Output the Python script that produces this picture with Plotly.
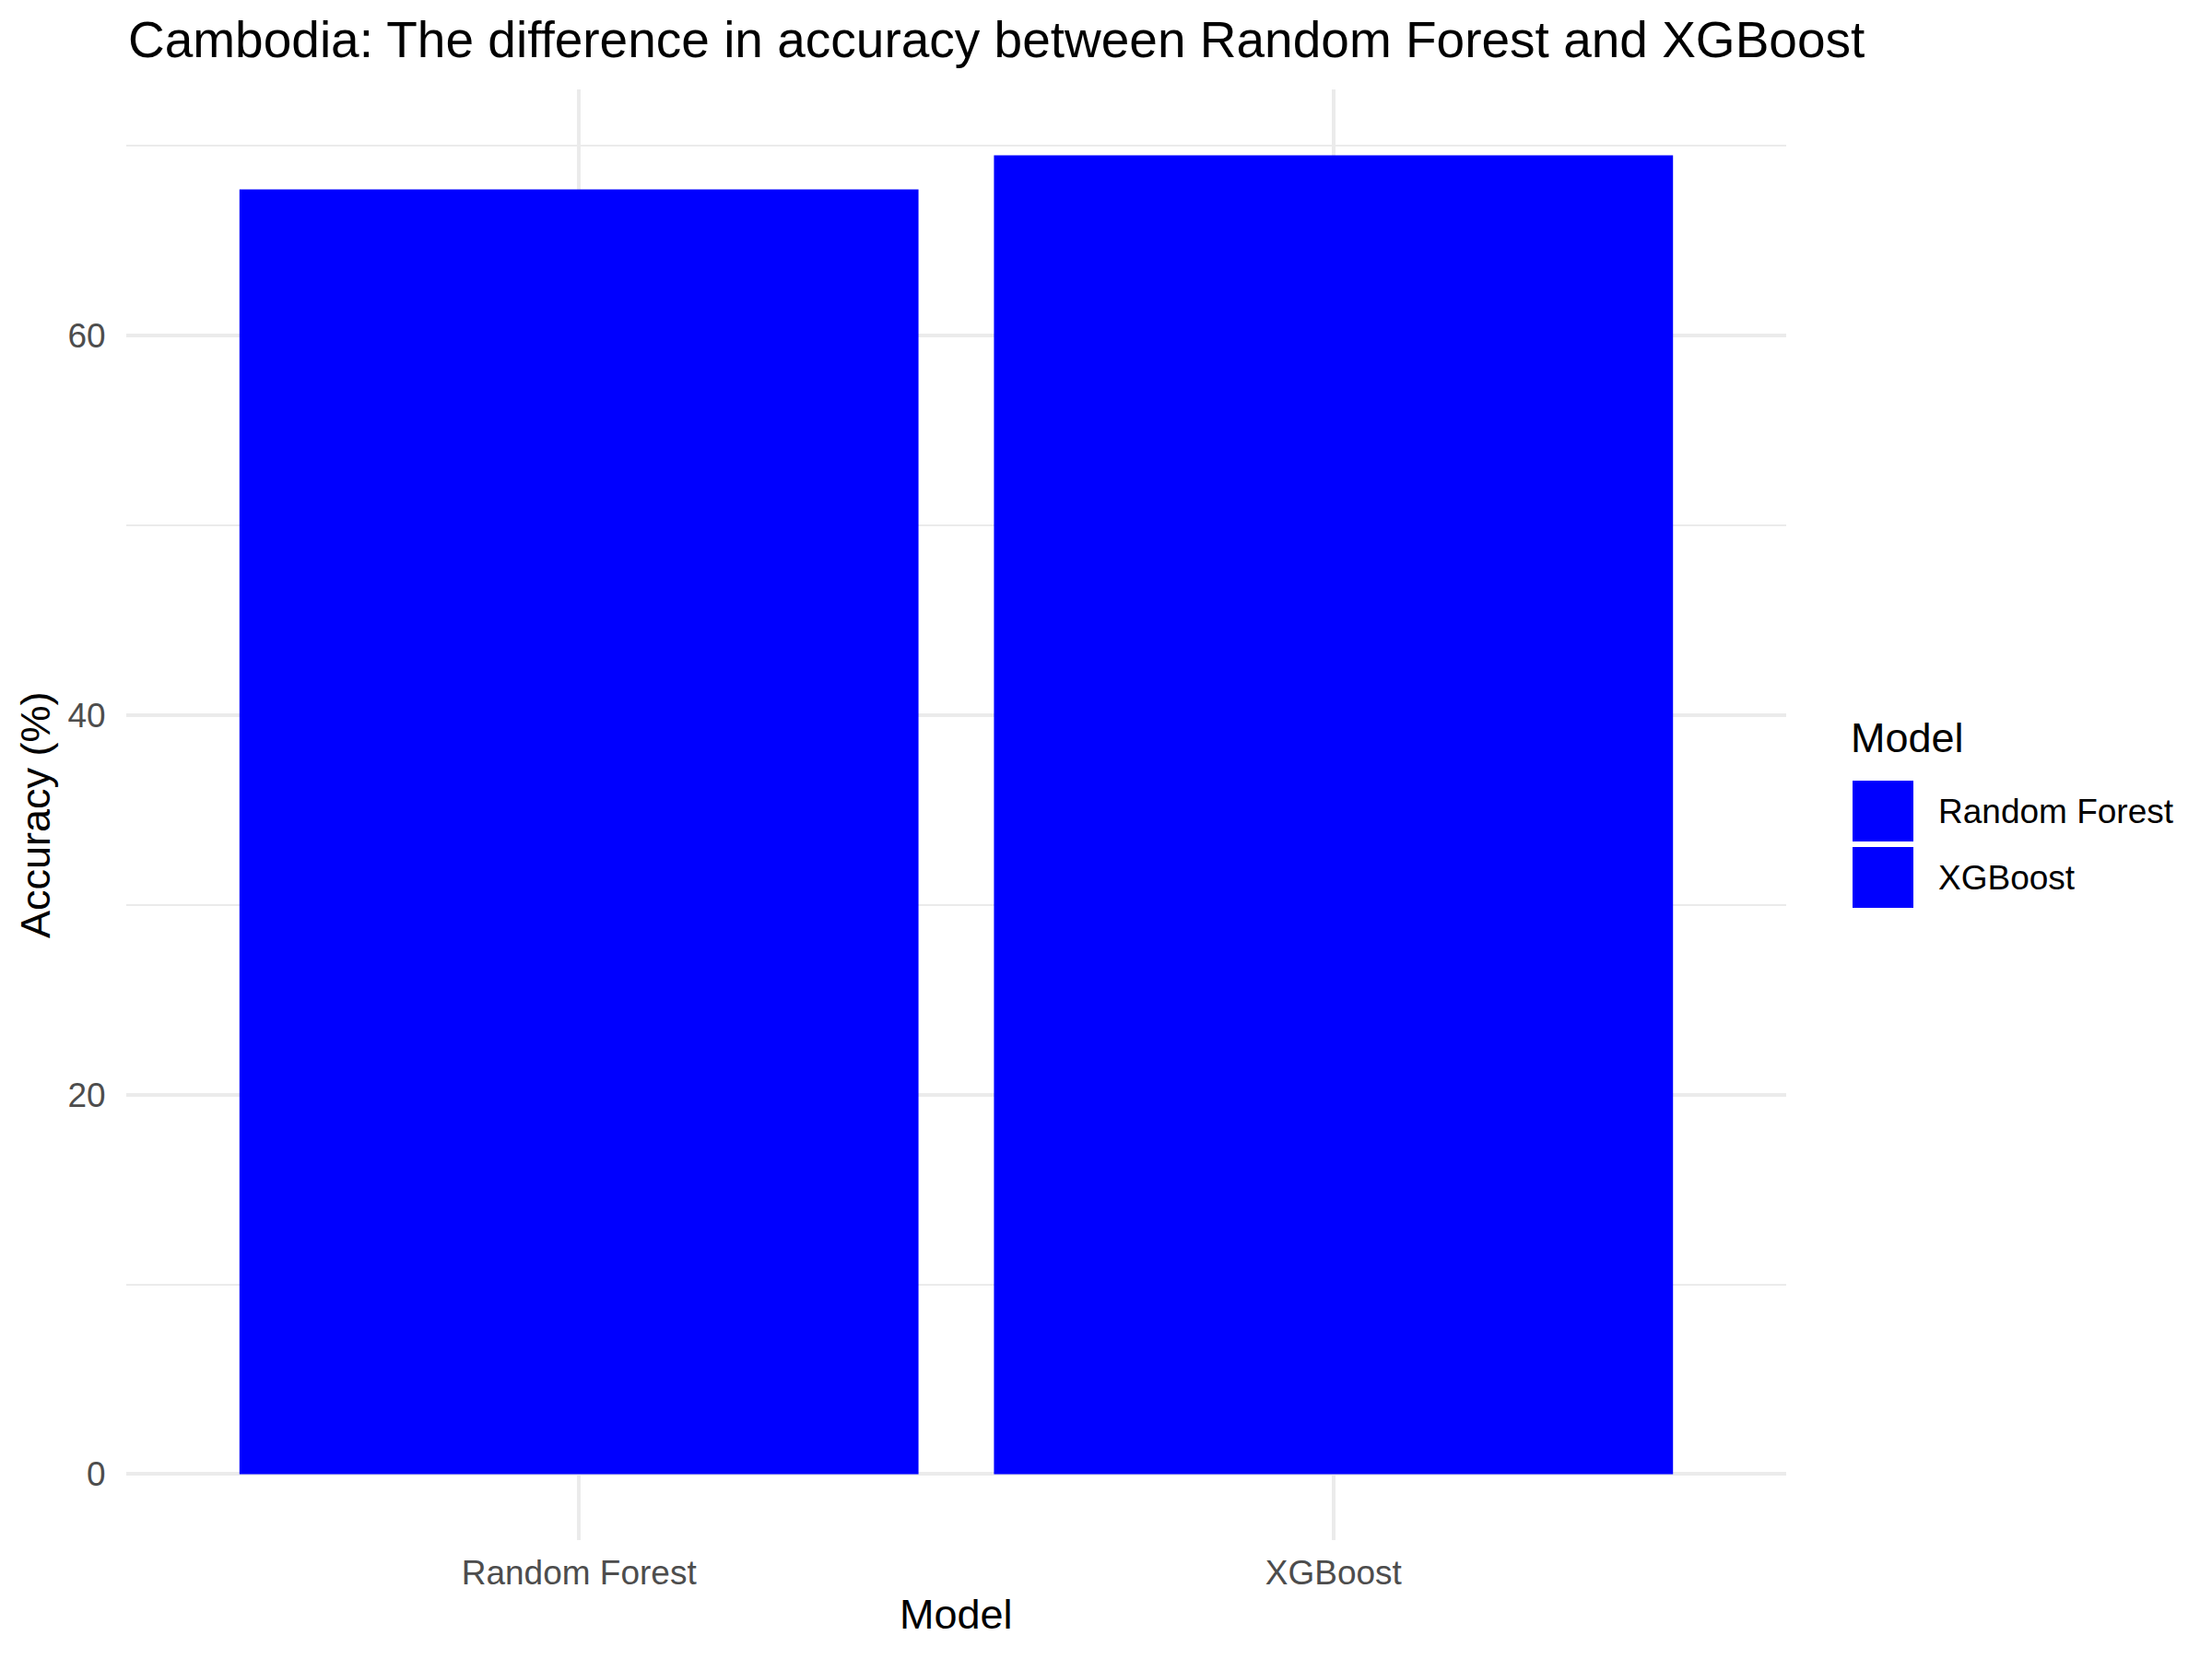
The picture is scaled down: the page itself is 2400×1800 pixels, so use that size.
import plotly.graph_objects as go

models = ["Random Forest", "XGBoost"]
accuracy = [67.7, 69.5]
bar_colors = ["#0000FF", "#0000FF"]
y_ticks = [0, 20, 40, 60]

title_text = "Cambodia: The difference in accuracy between Random Forest and XGBoost"
x_title = "Model"
y_title = "Accuracy (%)"
legend_title = "Model"

FONT = "Liberation Sans, Arial, Helvetica, sans-serif"
GRID = "#EBEBEB"
TICK = "#4D4D4D"

ymax = max(accuracy) * 1.05
ymin = -max(accuracy) * 0.05

fig = go.Figure()
fig.add_trace(go.Bar(
    x=models, y=accuracy, width=0.9,
    marker=dict(color=bar_colors, line=dict(width=0)),
    showlegend=False,
))

# panel pixel geometry
L, R, T, B = 137, 1938, 97, 1671
W, H = R - L, B - T
def px(x):
    return (x - L) / W
def py(y):
    return (B - y) / H

annotations = [
    dict(text=title_text, xref="paper", yref="paper", x=px(137), y=py(43),
         xanchor="left", yanchor="middle", showarrow=False,
         font=dict(family=FONT, size=55, color="black")),
    dict(text=x_title, xref="paper", yref="paper", x=0.5, y=py(1752),
         xanchor="center", yanchor="middle", showarrow=False,
         font=dict(family=FONT, size=45, color="black")),
    dict(text=y_title, xref="paper", yref="paper", x=px(38), y=0.5,
         xanchor="center", yanchor="middle", showarrow=False, textangle=-90,
         font=dict(family=FONT, size=45, color="black")),
    dict(text=legend_title, xref="paper", yref="paper", x=px(2006), y=py(801),
         xanchor="left", yanchor="middle", showarrow=False,
         font=dict(family=FONT, size=45, color="black")),
]
shapes = []
key_top = 847
for i, (m, c) in enumerate(zip(models, bar_colors)):
    top = key_top + i * 72
    shapes.append(dict(type="rect", xref="paper", yref="paper",
                       x0=px(2010), x1=px(2076), y0=py(top), y1=py(top + 66),
                       fillcolor=c, line=dict(width=0)))
    annotations.append(dict(text=m, xref="paper", yref="paper", x=px(2101),
                            y=py(top + 33), xanchor="left", yanchor="middle",
                            showarrow=False,
                            font=dict(family=FONT, size=37, color="black")))

fig.update_layout(
    width=2400, height=1800,
    margin=dict(l=L, r=2400 - R, t=T, b=1800 - B),
    paper_bgcolor="white", plot_bgcolor="white",
    bargap=0.1,
    annotations=annotations, shapes=shapes,
    showlegend=False,
)
fig.update_xaxes(
    type="category", range=[-0.6, 1.6],
    showgrid=True, gridcolor=GRID, gridwidth=4,
    zeroline=False, showline=False,
    ticks="outside", ticklen=3, tickcolor="rgba(0,0,0,0)",
    tickfont=dict(family=FONT, size=37, color=TICK),
)
fig.update_yaxes(
    range=[ymin, ymax],
    tickvals=y_ticks, ticktext=[str(v) for v in y_ticks],
    showgrid=True, gridcolor=GRID, gridwidth=4,
    minor=dict(tickvals=[10, 30, 50, 70], showgrid=True, gridcolor=GRID, gridwidth=2),
    zeroline=False, showline=False,
    ticks="outside", ticklen=14, tickcolor="rgba(0,0,0,0)",
    tickfont=dict(family=FONT, size=37, color=TICK),
)

fig.write_html("out.html")
